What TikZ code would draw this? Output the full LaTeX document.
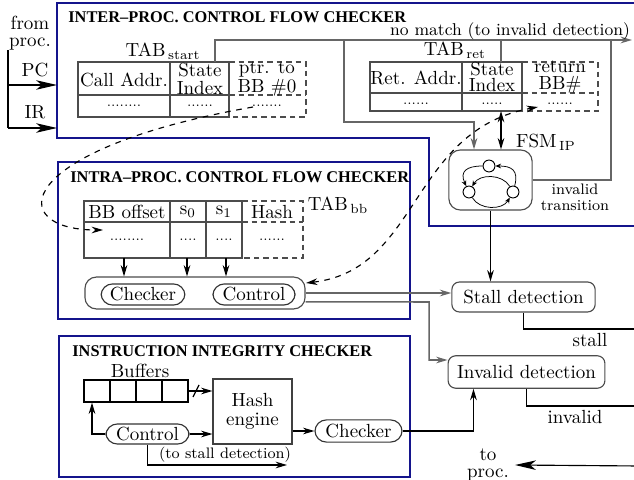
\documentclass[tikz,border=0pt]{standalone}
\usepackage{amsmath}
\usepackage{fontspec}
\usepackage{tkz-euclide}
\usetikzlibrary{arrows.meta}
\newfontfamily\titlefont{Liberation Serif}
\definecolor{frameblue}{RGB}{20,20,140}

\begin{document}
\begin{tikzpicture}[x=0.0185cm,y=-0.0185cm,
  frm/.style={draw=frameblue,line width=1.3pt},
  tabline/.style={draw=black!70,line width=0.6pt},
  wire/.style={draw=black!60,line width=0.8pt},
  ln/.style={draw=black,line width=0.6pt},
  arw/.style={-{Stealth[length=6pt,width=3.5pt]}},
  bigarw/.style={-{Stealth[length=11pt,width=5pt,inset=3pt]}},
  smallarw/.style={-{Stealth[length=3pt,width=2.5pt]}},
  dsh/.style={dash pattern=on 3pt off 2pt},
  ttl/.style={font=\titlefont\fontsize{8.6}{10}\selectfont\bfseries,anchor=west,inner sep=0pt},
  cell/.style={align=center,inner sep=0pt},
  dotrow/.style={font=\scriptsize,inner sep=0pt},
  rbox/.style={draw=black!70,line width=0.6pt,rounded corners=4pt,inner sep=0pt},
  pill/.style={draw=black!80,line width=0.6pt,rounded corners=6pt,inner sep=0pt},
  fsmstate/.style={circle,draw,line width=0.5pt,minimum size=0.22cm,inner sep=0pt}]
\useasboundingbox (0,0) rectangle (634,480);

% frames
\tkzDefPoint(57,3){fA}
\tkzDefPoint(645,3){fB}
\tkzDefPoint(645,226){fC}
\tkzDefPoint(429,226){fD}
\tkzDefPoint(429,138){fE}
\tkzDefPoint(57,138){fF}
\draw[frm] (fA) -- (fB) -- (fC) -- (fD) -- (fE) -- (fF) -- cycle;
\draw[frm] (58,162) rectangle (410,319);
\draw[frm] (59,336) rectangle (410,477);

\node[ttl] (ttlInter) at (68,17) {INTER–PROC. CONTROL FLOW CHECKER};
\node[ttl] (ttlIntra) at (70,177) {INTRA–PROC. CONTROL FLOW CHECKER};
\node[ttl] (ttlInteg) at (72,351) {INSTRUCTION INTEGRITY CHECKER};

% inputs
\node[cell] (fromProc) at (30,33) {from\\[-3pt]proc.};
\node (pcLbl) at (35,70) {PC};
\node (irLbl) at (35,112) {IR};
\tkzDefPoint(8,50){inTop}
\tkzDefPoint(8,85){inPC}
\tkzDefPoint(8,128){inIR}
\tkzDefPoint(57,85){pcEnd}
\tkzDefPoint(57,128){irEnd}
\draw[ln] (inTop) -- (inIR);
\draw[ln,bigarw] (inPC) -- (pcEnd);
\draw[ln,bigarw] (inIR) -- (irEnd);

% TAB start
\node (tabStart) at (163,51) {TAB$_{\mkern3mu\mathrm{start}}$};
\draw[tabline] (78,62) rectangle (229,117) (78,95) -- (229,95) (170,62) -- (170,117);
\draw[tabline,dsh] (229,62) -- (306,62) -- (306,117) -- (229,117) (229,95) -- (306,95);
\node[cell] (callAddr) at (124,80) {Call Addr.};
\node[cell] (stIdxA) at (200,79) {State\\[-2.5pt]Index};
\node[cell] (ptrBB) at (267,79) {ptr. to\\[-2.5pt]BB \#0};
\node[dotrow] (dotA1) at (124,106) {........};
\node[dotrow] (dotA2) at (200,106) {......};
\node[dotrow] (dotA3) at (267,106) {.......};

% no match
\tkzDefPoint(215,62){nmS}
\tkzDefPoint(215,40){nmA}
\tkzDefPoint(632,40){nmEnd}
\draw[wire,arw] (nmS) -- (nmA) -- (nmEnd);
\node[font=\small] (noMatch) at (510,31) {no match (to invalid detection)};

% TAB ret
\node (tabRet) at (455,50) {TAB$_{\mkern3mu\mathrm{ret}}$};
\draw[tabline] (370,62) rectangle (522,111) (370,93) -- (522,93) (462,62) -- (462,111);
\draw[tabline,dsh] (522,62) -- (598,62) -- (598,111) -- (522,111) (522,93) -- (598,93);
\node[cell] (retAddr) at (416,78) {Ret. Addr.};
\node[cell] (stIdxR) at (492,77) {State\\[-3.5pt]Index};
\node[cell] (retBB) at (560,77) {return\\[-3.5pt]BB\#};
\node[dotrow] (dotR1) at (416,104) {......};
\node[dotrow] (dotR2) at (492,104) {.....};
\node[dotrow] (dotR3) at (560,104) {......};

% FSM
\node[rbox,rounded corners=6pt,minimum width=1.54cm,minimum height=1.11cm] (fsm) at (490.5,180) {};
\node (fsmLbl) at (546,142) {FSM$_{\mkern3mu\mathrm{IP}}$};
\node[fsmstate] (sTop) at (489,166) {};
\node[fsmstate] (sLeft) at (469,192) {};
\node[fsmstate] (sRight) at (513,192) {};
\draw[smallarw] (sTop) to[out=180,in=115,looseness=1.6] (sLeft);
\draw[smallarw] (sRight) to[out=75,in=0,looseness=1.5] (sTop);
\draw[smallarw] (sRight) to[bend right=60] (sLeft);
\draw[smallarw] (sLeft) to[bend right=60] (sRight);

\tkzDefPoint(344,40){rA}
\tkzDefPoint(344,122){rB}
\tkzDefPoint(474,122){rC}
\draw[wire,arw] (rA) -- (rB) -- (rC) -- (rC |- fsm.north);
\tkzDefPoint(501,40){sxA}
\tkzDefPoint(501,62){sxB}
\tkzDefPoint(501,111){sxC}
\draw[wire] (sxA) -- (sxB);
\draw[ln,{Stealth[length=6pt,width=3.5pt]}-{Stealth[length=6pt,width=3.5pt]}] (sxC) -- (sxC |- fsm.north);
\tkzDefPoint(611,180){itA}
\tkzDefPoint(611,40){itB}
\draw[wire] (fsm.east) -- (itA) -- (itB);
\node[cell,font=\footnotesize] (invTrans) at (575,197) {invalid\\[-1pt]transition};

% detection units
\node[rbox,minimum width=2.65cm,minimum height=0.555cm] (stall) at (523.5,297) {Stall detection};
\node[rbox,minimum width=2.9cm,minimum height=0.6cm] (invalid) at (526.5,372) {Invalid detection};
\draw[ln,arw] (fsm.south) -- (fsm.south |- stall.north);
\tkzDefPoint(640,329){stallOut}
\draw[ln] (stall.south) |- (stallOut);
\node (stallLbl) at (590,340) {stall};
\tkzDefPoint(640,406){invOut}
\draw[ln] (invalid.south) |- (invOut);
\node (invLbl) at (575,417) {invalid};
\tkzDefPoint(640,466){toOut}
\node[cell,inner sep=3pt] (toProc) at (488,465) {to\\[-3pt]proc.};
\draw[ln,bigarw] (toOut) -- (toProc.east);

% TAB bb
\node (tabBB) at (338,205) {TAB$_{\mkern3mu\mathrm{bb}}$};
\draw[tabline] (84,201) rectangle (242,258) (84,222) -- (242,222) (170,201) -- (170,258) (206,201) -- (206,258);
\draw[tabline,dsh] (242,201) -- (303,201) -- (303,258) -- (242,258) (242,222) -- (303,222);
\node[cell] (bbOff) at (127,212) {BB offset};
\node[cell] (sZero) at (188,212) {$\mathrm{s}_0$};
\node[cell] (sOne) at (224,212) {$\mathrm{s}_1$};
\node[cell] (hashCol) at (272,212) {Hash};
\node[dotrow] (dotB1) at (127,240) {........};
\node[dotrow] (dotB2) at (188,240) {....};
\node[dotrow] (dotB3) at (224,240) {....};
\node[dotrow] (dotB4) at (272,240) {......};

\node[rbox,rounded corners=6pt,minimum width=4.07cm,minimum height=0.59cm] (intraCtl) at (195,293) {};
\node[pill,minimum width=1.55cm,minimum height=0.39cm] (intraChk) at (143,294.5) {Checker};
\node[pill,minimum width=1.52cm,minimum height=0.39cm] (intraCtrl) at (254,294.5) {Control};
\foreach \x in {124,187,226}
  \draw[ln,arw] (\x,258) -- (\x,258 |- intraCtl.north);

\draw[wire,arw] (intraCtl.east) -- (intraCtl.east -| stall.west);
\tkzDefPoint(429,302){ivA}
\tkzDefPoint(429,360){ivB}
\draw[wire,arw] ([yshift=-4.7pt]intraCtl.east) -- (ivA) -- (ivB) -- (ivB -| invalid.west);

% pointers
\tkzDefPoint(253,107){pA}
\tkzDefPoint(103,230){pB}
\draw[ln,dashed,arw] (pA) .. controls (10,150) and (5,230) .. (pB);
\tkzDefPoint(306,283){pC}
\tkzDefPoint(538,107){pD}
\draw[ln,dashed,{Stealth[length=6pt,width=3.5pt]}-{Stealth[length=6pt,width=3.5pt]}] (pC) .. controls (420,270) and (410,130) .. (pD);

% integrity checker
\node (bufLbl) at (140,371) {Buffers};
\foreach \bx [count=\n] in {97,123,149,175}
  \node[draw,line width=0.6pt,minimum width=0.481cm,minimum height=0.407cm,inner sep=0pt] (buf\n) at (\bx,391) {};
\node[draw=black!75,line width=0.6pt,align=center,minimum width=1.46cm,minimum height=1.2cm] (hash) at (252.5,411.5) {Hash\\[-2pt]engine};
\node[pill,minimum width=1.54cm,minimum height=0.37cm] (integCtl) at (147.5,434) {Control};
\node[pill,minimum width=1.61cm,minimum height=0.41cm] (integChk) at (358.5,431) {Checker};
\draw[ln,arw] (buf4.east) -- (buf4.east -| hash.west);
\draw[ln] (193,397) -- (199,385);
\draw[ln,arw] (integCtl.east) -- (integCtl.east -| hash.west);
\tkzDefPoint(92,434){bk}
\draw[ln,arw] (integCtl.west) -- (bk) -- (bk |- buf1.south);
\draw[ln,arw] (integChk.west -| hash.east) -- (integChk.west);
\draw[ln,arw] (integChk.east) -| ([xshift=0.48cm]invalid.south west);
\tkzDefPoint(287,465){sdB}
\draw[ln,arw] (integCtl.south) |- (sdB);
\node[font=\footnotesize] (toStall) at (225,455) {(to stall detection)};
\end{tikzpicture}
\end{document}
